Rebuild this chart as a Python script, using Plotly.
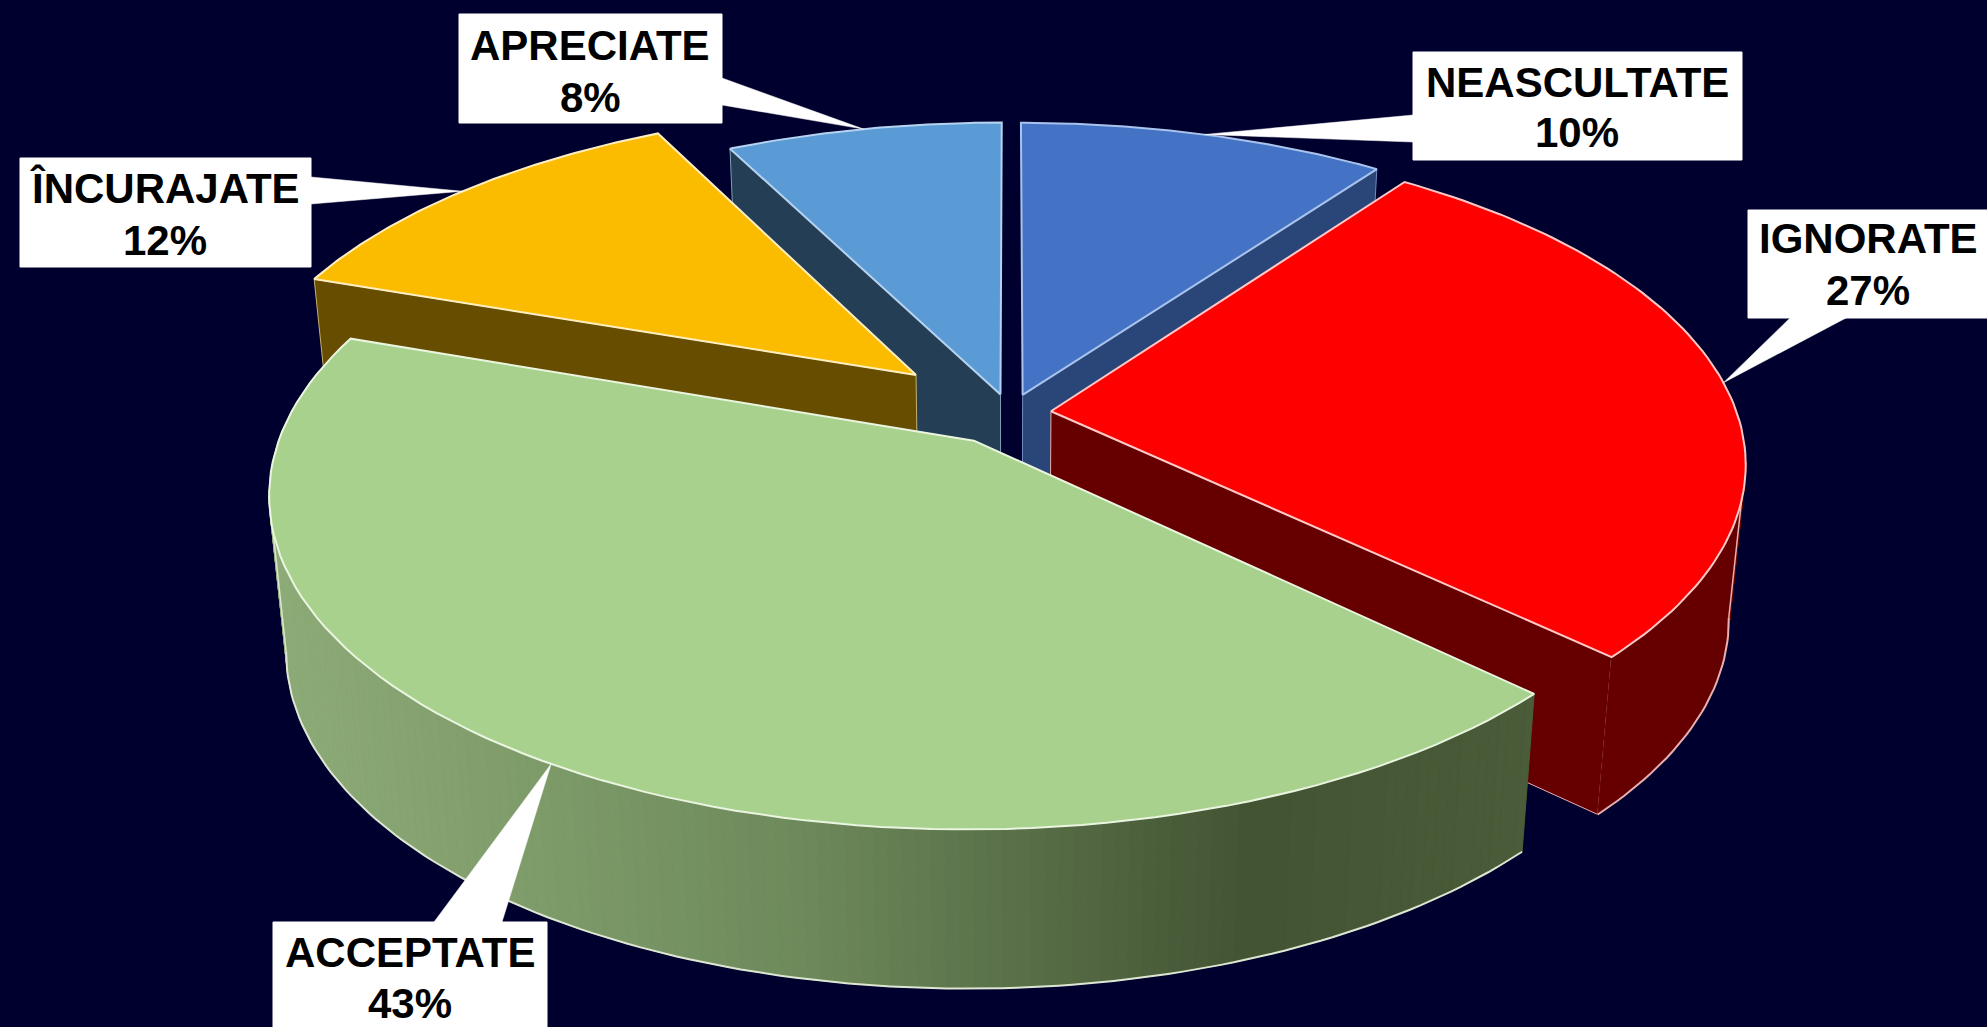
import numpy as np
import plotly.graph_objects as go

# data, clockwise from 12 o'clock
categories = ["NEASCULTATE", "IGNORATE", "ACCEPTATE", "ÎNCURAJATE", "APRECIATE"]
values = [10.0, 27.1, 43.2, 12.2, 7.5]
pct_labels = ["10%", "27%", "43%", "12%", "8%"]

# styles
explode = [0.06, 0.06, 0.10, 0.185, 0.06]
top_colors = ["#4472C4", "#FF0000", "#A9D18E", "#FBBC00", "#5B9BD5"]
wall_colors = ["#2A4577", "#660000", None, "#664D00", "#243F55"]
edge_colors = ["#A9C4EC", "#FFC8C8", "#EAF5E0", "#FFEFC0", "#B5D3F0"]
wall_edge = ["#6F8BC0", "#E8B0B0", "#DDE6D2", "#C8B070", "#7F9FB8"]
paint_order = [4, 0, 3, 1, 2]
BG = "#00002E"

# projection of the tilted disc
W, H = 1987, 1027
CX, CY, RX, RY, K = 1010, 413, 686, 319.3, 0.1545
DROP, SHRINK_X, SHRINK_Y = 155, 0.977, 1.01


def proj(u, v, lower=False):
    f = 1 / (1 + K * v)
    x, y = RX * u * f, -RY * v * f
    if lower:
        x, y = x * SHRINK_X, y * SHRINK_Y + DROP
    return CX + x, CY + y


def rim(i, deg, lower=False):
    t = np.radians(deg)
    return proj(offs[i][0] + np.sin(t), offs[i][1] + np.cos(t), lower)


def apex(i, lower=False):
    return proj(offs[i][0], offs[i][1], lower)


total = sum(values)
edges = np.cumsum([0] + values) * 360.0 / total
mids = (edges[:-1] + edges[1:]) / 2
offs = [(e * np.sin(np.radians(m)), e * np.cos(np.radians(m))) for e, m in zip(explode, mids)]

fig = go.Figure()


def poly(x, y, fill, line=None, width=1.5):
    fig.add_trace(go.Scatter(
        x=list(x), y=list(y), mode="lines", fill="toself", fillcolor=fill,
        line=dict(color=line or fill, width=width), hoverinfo="skip", showlegend=False))


def stroke(x, y, color, width=1.6):
    fig.add_trace(go.Scatter(x=list(x), y=list(y), mode="lines", line=dict(color=color, width=width),
                             hoverinfo="skip", showlegend=False))


def cut_wall(i, deg):
    ax, ay = apex(i)
    bx, by = apex(i, True)
    rx, ry = rim(i, deg)
    qx, qy = rim(i, deg, True)
    poly([ax, rx, qx, bx, ax], [ay, ry, qy, by, ay], wall_colors[i] or "#445533", wall_edge[i], 1.0)


def green_ramp(x):
    stops_x = [270, 800, 1250, 1530]
    r = np.interp(x, stops_x, [0x8E, 0x6E, 0x43, 0x4A])
    g = np.interp(x, stops_x, [0xAC, 0x8A, 0x54, 0x5C])
    b = np.interp(x, stops_x, [0x78, 0x5C, 0x33, 0x39])
    return f"rgb({int(r)},{int(g)},{int(b)})"


for i in paint_order:
    a, b = edges[i], edges[i + 1]
    # cut faces turned towards the viewer
    if np.sin(np.radians(a)) < -1e-6:
        cut_wall(i, a)
    if np.sin(np.radians(b)) > 1e-6:
        cut_wall(i, b)
    # outer face, front part only
    angs = np.arange(a, b + 0.01, 1.0)
    angs = np.r_[angs[angs < b - 0.01], b]
    angs = angs[np.cos(np.radians(angs)) < 0.25]
    if len(angs) > 1:
        for p, q in zip(angs[:-1], angs[1:]):
            x0, y0 = rim(i, p); x1, y1 = rim(i, q)
            x2, y2 = rim(i, q, True); x3, y3 = rim(i, p, True)
            col = wall_colors[i] or green_ramp((x0 + x1) / 2)
            poly([x0, x1, x2, x3, x0], [y0, y1, y2, y3, y0], col, None, 1.0)
        # visible lower rim, closed off by the silhouette edges
        vis = angs[np.cos(np.radians(angs)) < -0.15]
        if len(vis) > 1:
            lx, ly = rim(i, vis, True)
            stroke(lx, ly, wall_edge[i], 2.0)
            for deg in (vis[0], vis[-1]):
                if deg - a > 1.5 and b - deg > 1.5:
                    tx, ty = rim(i, deg)
                    qx, qy = rim(i, deg, True)
                    stroke([tx, qx], [ty, qy], wall_edge[i], 1.5)
    # top face
    angs = np.linspace(a, b, 90)
    rx, ry = rim(i, angs)
    ax, ay = apex(i)
    poly(np.r_[ax, rx, ax], np.r_[ay, ry, ay], top_colors[i], edge_colors[i], 2.0)

# callouts: box extents per category and the side the pointer leaves from
boxes = {"NEASCULTATE": (1413, 1742, 52, 160), "IGNORATE": (1748, 2000, 210, 318),
         "ACCEPTATE": (273, 547, 922, 1040), "ÎNCURAJATE": (20, 311, 158, 267),
         "APRECIATE": (459, 722, 14, 123)}
bases = {"NEASCULTATE": ((1413, 115), (1413, 142)), "IGNORATE": ((1790, 318), (1846, 318)),
         "ACCEPTATE": ((434, 922), (502, 922)), "ÎNCURAJATE": ((311, 177), (311, 204)),
         "APRECIATE": ((722, 78), (722, 105))}
text_rows = {"NEASCULTATE": (1577, 82, 132), "IGNORATE": (1868, 238, 290),
             "ACCEPTATE": (410, 952, 1003), "ÎNCURAJATE": (165, 188, 240),
             "APRECIATE": (590, 45, 97)}

FONT = dict(family="Liberation Sans", size=42, color="#000000")
annotations = []
for i, name in enumerate(categories):
    x0, x1, y0, y1 = boxes[name]
    poly([x0, x1, x1, x0, x0], [y0, y0, y1, y1, y0], "#FFFFFF", None, 1)
    tx, ty = rim(i, mids[i])
    (px, py), (qx, qy) = bases[name]
    poly([px, float(tx), qx, px], [py, float(ty), qy, py], "#FFFFFF", None, 0.5)
    cx, r1, r2 = text_rows[name]
    for txt, yy in ((name, r1), (pct_labels[i], r2)):
        annotations.append(dict(x=cx, y=yy, xref="x", yref="y", text=f"<b>{txt}</b>", showarrow=False,
                                xanchor="center", yanchor="middle", font=FONT))

fig.update_layout(
    width=W, height=H, margin=dict(l=0, r=0, t=0, b=0),
    paper_bgcolor=BG, plot_bgcolor=BG, showlegend=False, annotations=annotations,
    xaxis=dict(range=[0, W], visible=False, fixedrange=True),
    yaxis=dict(range=[H, 0], visible=False, fixedrange=True),
)

fig.write_html("out.html", config={"displayModeBar": False},
               post_script="document.body.style.margin='0';document.body.style.overflow='hidden';"
                           f"document.body.style.background='{BG}';")
